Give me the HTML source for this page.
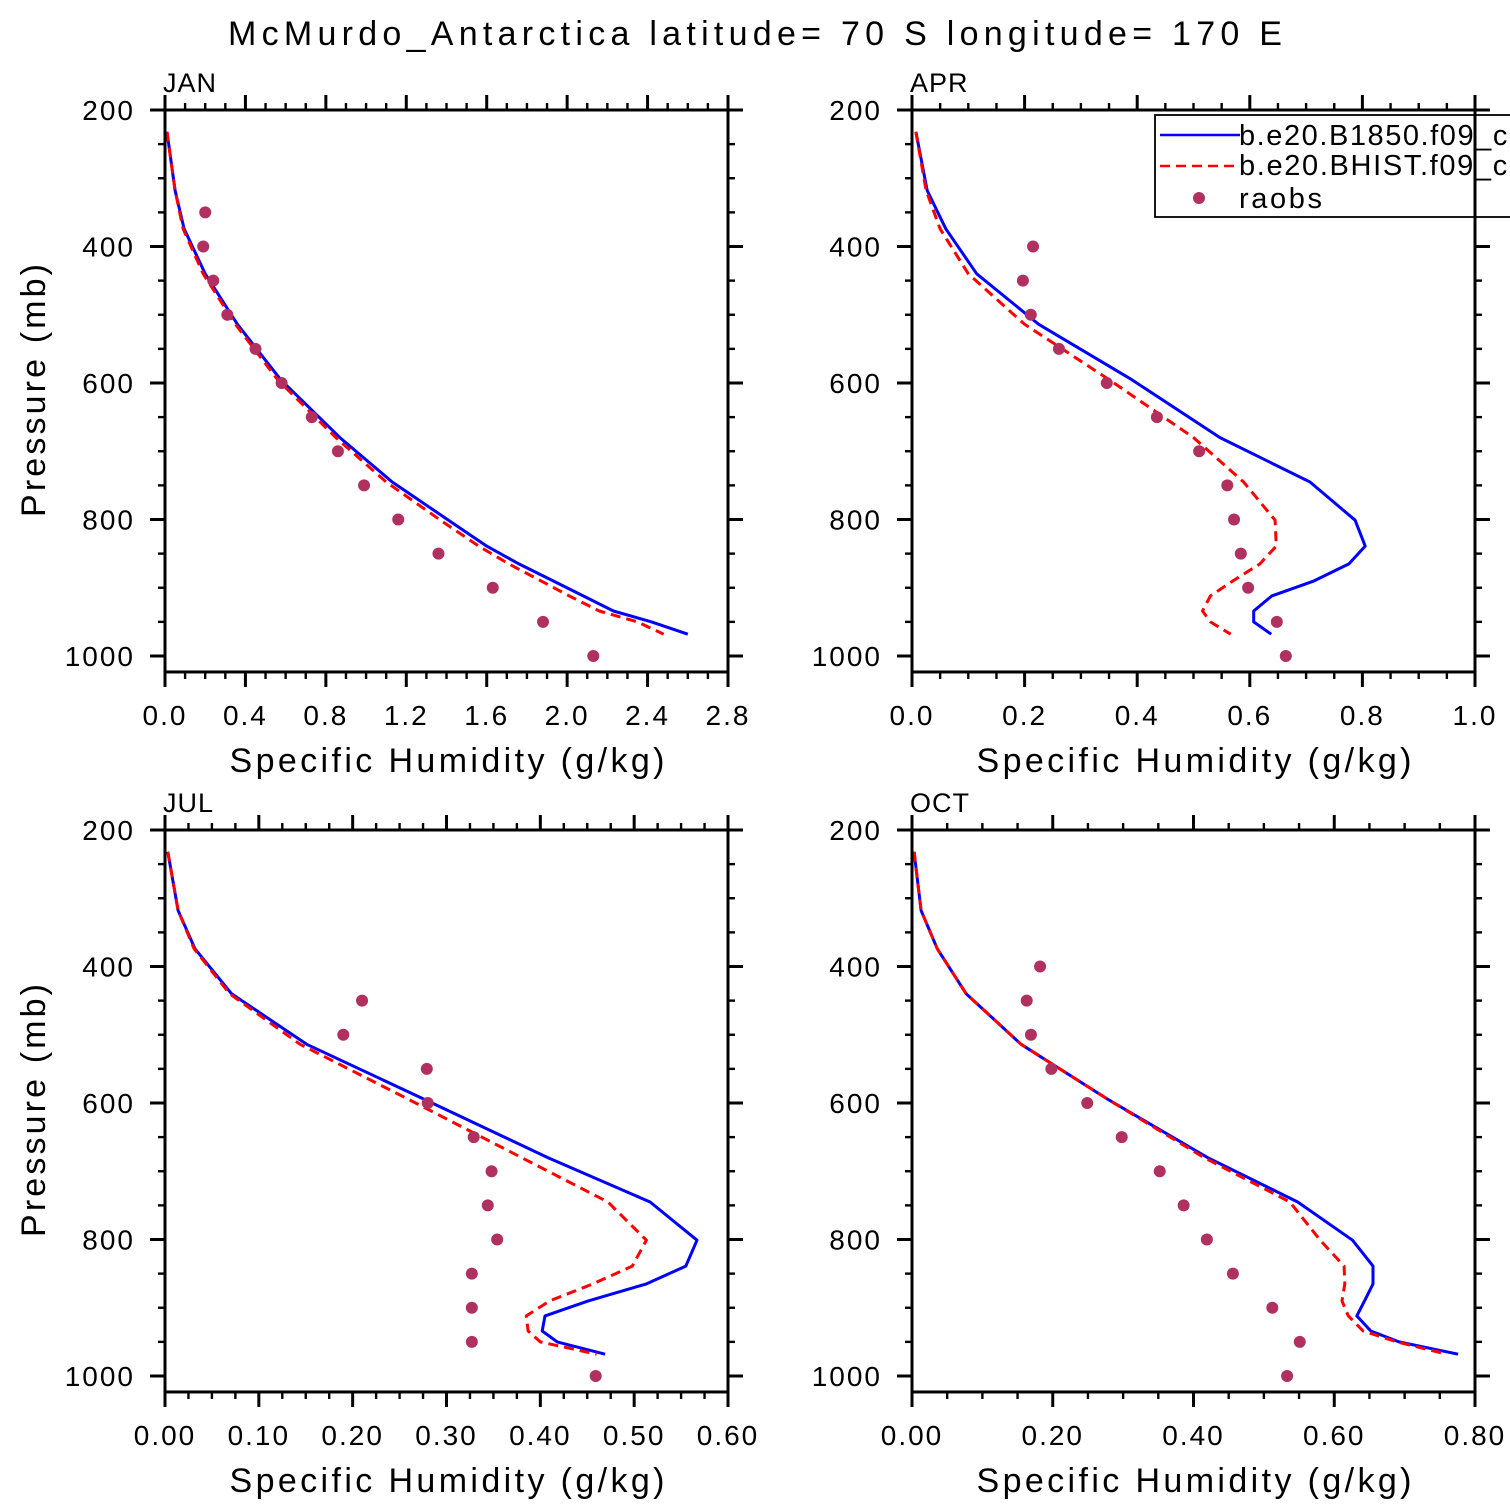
<!DOCTYPE html>
<html><head><meta charset="utf-8"><style>
html,body{margin:0;padding:0;background:#fff;}
svg{display:block;font-family:"Liberation Sans",sans-serif;}
</style></head><body>
<svg id="fig" width="1510" height="1510" viewBox="0 0 1510 1510" xmlns="http://www.w3.org/2000/svg">
<rect x="0" y="0" width="1510" height="1510" fill="#fff"/>
<text x="228" y="45" font-size="34" textLength="1054" lengthAdjust="spacing">McMurdo_Antarctica  latitude= 70 S longitude= 170 E</text>
</svg>
<script>
// model pressure levels (mb)
const modelLevels = [232,318,374,440,514,595,680,745,801,839,865,890,912,934,950,968];
const obsLevels = [350,400,450,500,550,600,650,700,750,800,850,900,950,1000];
const obsLevelsB = [400,450,500,550,600,650,700,750,800,850,900,950,1000];
const obsLevelsJul = [450,500,550,600,650,700,750,800,850,900,950,1000];
// JAN
const janB1850 = [0.01,0.05,0.095,0.2,0.36,0.575,0.87,1.13,1.41,1.6,1.76,1.93,2.08,2.23,2.42,2.60];
const janBHIST = [0.01,0.05,0.09,0.19,0.35,0.56,0.85,1.10,1.37,1.56,1.71,1.87,2.01,2.16,2.35,2.48];
const janObs = [0.20,0.19,0.24,0.31,0.45,0.58,0.73,0.86,0.99,1.16,1.36,1.63,1.88,2.13];
// APR
const aprB1850 = [0.007,0.027,0.06,0.115,0.225,0.39,0.547,0.707,0.787,0.805,0.776,0.714,0.639,0.607,0.607,0.638];
const aprBHIST = [0.007,0.025,0.05,0.10,0.20,0.35,0.50,0.589,0.645,0.647,0.618,0.57,0.53,0.516,0.53,0.566];
const aprObs = [0.215,0.197,0.211,0.261,0.346,0.435,0.51,0.56,0.572,0.584,0.597,0.648,0.664];
// JUL
const julB1850 = [0.003,0.014,0.032,0.071,0.151,0.277,0.408,0.517,0.567,0.555,0.513,0.451,0.405,0.402,0.418,0.469];
const julBHIST = [0.003,0.014,0.031,0.069,0.144,0.26,0.38,0.472,0.513,0.498,0.456,0.41,0.385,0.387,0.40,0.46];
const julObs = [0.21,0.19,0.279,0.28,0.329,0.348,0.344,0.354,0.327,0.327,0.327,0.459];
// OCT
const octB1850 = [0.003,0.013,0.036,0.077,0.155,0.279,0.42,0.548,0.626,0.655,0.655,0.643,0.632,0.652,0.692,0.776];
const octBHIST = [0.003,0.013,0.036,0.077,0.155,0.279,0.415,0.537,0.58,0.614,0.615,0.611,0.62,0.641,0.689,0.76];
const octObs = [0.182,0.163,0.169,0.198,0.249,0.298,0.352,0.386,0.419,0.456,0.512,0.551,0.533];
// axis tick labels
const janTicks = ["0.0","0.4","0.8","1.2","1.6","2.0","2.4","2.8"];
const aprTicks = ["0.0","0.2","0.4","0.6","0.8","1.0"];
const julTicks = ["0.00","0.10","0.20","0.30","0.40","0.50","0.60"];
const octTicks = ["0.00","0.20","0.40","0.60","0.80"];
const pTicks = [200,400,600,800,1000];

const NS="http://www.w3.org/2000/svg";
const svg=document.getElementById('fig');
function mk(tag,attrs,parent){const e=document.createElementNS(NS,tag);for(const k in attrs)e.setAttribute(k,attrs[k]);(parent||svg).appendChild(e);return e;}

function panel(cfg){
  const g=mk('g',{});
  
  
  const x0=cfg.x0,x1=cfg.x1,yTop=cfg.yTop;
  const pmin=200,pscale=0.6825,pbot=1023.4;
  const xmax=cfg.xmax;
  const X=v=>x0+(v/xmax)*(x1-x0);
  const Y=p=>yTop+(p-pmin)*pscale;
  const yb=Y(pbot);
  const mkLine=(vals,color,dash,nm)=>{
    const d=vals.map((v,i)=>(i?'L':'M')+X(v).toFixed(1)+','+Y(modelLevels[i]).toFixed(1)).join('');
    const a={d:d,fill:'none',stroke:color,'stroke-width':3,'stroke-linejoin':'round'};
    if(dash)a['stroke-dasharray']=dash;
    const p=mk('path',a,g);
    
    
  };
  mkLine(cfg.b1850,'#0000ff',null,cfg.name+'-b1850-line');
  mkLine(cfg.bhist,'#ff0000','10 6',cfg.name+'-bhist-line');
  cfg.obs.forEach((v,i)=>{
    const c=mk('circle',{cx:X(v),cy:Y(cfg.obsP[i]),r:6,fill:'#b03060'},g);
    
    
  });
  const fr=mk('rect',{x:x0,y:yTop,width:x1-x0,height:yb-yTop,fill:'none',stroke:'#000','stroke-width':3},g);
  
  
  const nMaj=cfg.ticks.length-1;
  for(let i=0;i<=nMaj*4;i++){
    const v=xmax*i/(nMaj*4),x=X(v),maj=i%4===0,L=maj?15:7;
    mk('line',{x1:x,x2:x,y1:yTop,y2:yTop-L,stroke:'#000','stroke-width':maj?3:2.4},g);
    mk('line',{x1:x,x2:x,y1:yb,y2:yb+L,stroke:'#000','stroke-width':maj?3:2.4},g);
  }
  cfg.ticks.forEach((t,i)=>{
    const tx=mk('text',{x:X(xmax*i/nMaj),y:yb+53,'text-anchor':'middle','font-size':28,'letter-spacing':2},g);
    tx.textContent=t;
    
    
  });
  for(let p=200;p<=1000;p+=50){
    const y=Y(p),maj=p%200===0,L=maj?15:7;
    mk('line',{x1:x0,x2:x0-L,y1:y,y2:y,stroke:'#000','stroke-width':maj?3:2.4},g);
    mk('line',{x1:x1,x2:x1+L,y1:y,y2:y,stroke:'#000','stroke-width':maj?3:2.4},g);
  }
  pTicks.forEach(p=>{
    const tx=mk('text',{x:x0-30,y:Y(p)+10,'text-anchor':'end','font-size':28,'letter-spacing':2},g);
    tx.textContent=p;
    
    
  });
  const lab=mk('text',{x:x0-2,y:yTop-18,'font-size':27,'letter-spacing':1},g);
  lab.textContent=cfg.label;
  
  
  const xt=mk('text',{x:(x0+x1)/2-217,y:yb+100,'font-size':34,textLength:435,lengthAdjust:'spacing'},g);
  xt.textContent='Specific Humidity (g/kg)';
  
  
  if(cfg.ylab){
    const cy=(yTop+yb)/2;
    const yt=mk('text',{x:0,y:0,transform:`translate(45,${cy+126}) rotate(-90)`,'font-size':34,textLength:253,lengthAdjust:'spacing'},g);
    yt.textContent='Pressure (mb)';
    
    
  }
}
panel({name:'jan',label:'JAN',x0:165,x1:728,yTop:110,xmax:2.8,ticks:janTicks,b1850:janB1850,bhist:janBHIST,obs:janObs,obsP:obsLevels,ylab:true});
panel({name:'apr',label:'APR',x0:912,x1:1475,yTop:110,xmax:1.0,ticks:aprTicks,b1850:aprB1850,bhist:aprBHIST,obs:aprObs,obsP:obsLevelsB,ylab:false});
panel({name:'jul',label:'JUL',x0:165,x1:728,yTop:830,xmax:0.6,ticks:julTicks,b1850:julB1850,bhist:julBHIST,obs:julObs,obsP:obsLevelsJul,ylab:true});
panel({name:'oct',label:'OCT',x0:912,x1:1475,yTop:830,xmax:0.8,ticks:octTicks,b1850:octB1850,bhist:octBHIST,obs:octObs,obsP:obsLevelsB,ylab:false});

const lg=mk('g',{});


const lb=mk('rect',{x:1155,y:115,width:370,height:102,fill:'#fff',stroke:'#000','stroke-width':1.8},lg);


const l1=mk('line',{x1:1160,x2:1240,y1:135,y2:135,stroke:'#0000ff','stroke-width':2.6},lg);


const l2=mk('line',{x1:1160,x2:1240,y1:166,y2:166,stroke:'#ff0000','stroke-width':2.6,'stroke-dasharray':'10 6'},lg);


const l3=mk('circle',{cx:1199,cy:198,r:6,fill:'#b03060'},lg);


[['b.e20.B1850.f09_ca',145,'legend-b1850-label',286],['b.e20.BHIST.f09_ca',175,'legend-bhist-label',286],['raobs',208,'legend-raobs-label',83]].forEach(a=>{
  const t=mk('text',{x:1239,y:a[1],'font-size':29,textLength:a[3],lengthAdjust:'spacing'},lg);
  t.textContent=a[0];
  
  
});
mk('line',{x1:1475,x2:1475,y1:108,y2:230,stroke:'#000','stroke-width':3});
</script>
</body></html>
